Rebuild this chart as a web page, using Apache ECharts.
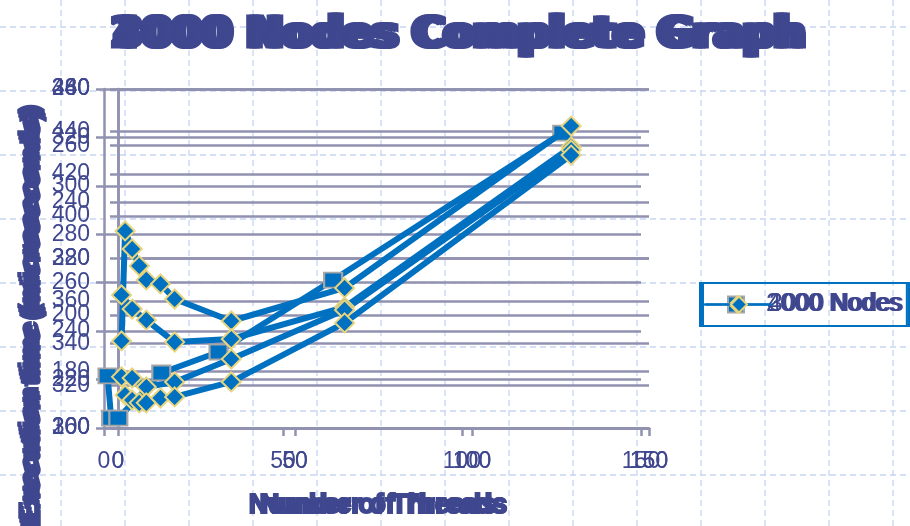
<!DOCTYPE html>
<html>
<head>
<meta charset="utf-8">
<script src="https://cdn.jsdelivr.net/npm/echarts@6/dist/echarts.min.js"></script>
<style>
  html, body { margin: 0; padding: 0; background: #ffffff; }
  #chart { width: 910px; height: 526px; }
</style>
</head>
<body>
<div id="chart"></div>
<script>
// Thread counts and measured execution times (microseconds) for each run
const threadsA = [1, 2, 4, 16, 32, 64, 128];
const timesA = [221.5, 204.1, 204.1, 222.7, 231.4, 261.1, 321.8];

const threadsB = [1, 2, 4, 6, 8, 12, 16, 32, 64, 128];
const timesB = [341.1, 393.0, 384.5, 376.5, 369.9, 368.0, 360.9, 350.5, 366.1, 442.5];

const threadsC1 = [1, 4, 8, 16, 32, 64, 128];
const timesC1 = [207.1, 202.1, 198.2, 190.4, 191.5, 202.8, 259.5];
const threadsC2 = [1, 4, 8, 16, 32, 64, 128];
const timesC2 = [178.1, 177.7, 174.5, 176.3, 184.4, 201.8, 258.4];
const threadsC3 = [2, 4, 6, 8, 12, 16, 32, 64, 128];
const timesC3 = [171.7, 169.9, 168.9, 168.9, 170.6, 171.0, 176.3, 197.2, 256.6];

// Axis tick labels
const xTicks = [0, 50, 100, 150];
const yTicksA = [200, 220, 240, 260, 280, 300, 320, 340];
const yTicksB = [300, 320, 340, 360, 380, 400, 420, 440, 460];
const yTicksC = [160, 180, 200, 220, 240, 260, 280];

const NAVY = '#3f478f';
const BLUE = '#0070c0';
const RULE = '#9191b0';
const FONT = 'Liberation Sans';

const zip = (xs, ys) => xs.map((x, i) => [x, ys[i]]);

const layers = [
  { name: '2000 Nodes', left: 104, right: 269, yTicks: yTicksA, labelMargin: 14, shift: 0,
    runs: [{ x: threadsA, y: timesA }], symbol: 'rect', border: '#a6a6a6', z: 2 },
  { name: '4000 Nodes', left: 118, right: 261, yTicks: yTicksB, labelMargin: 28, shift: 3,
    runs: [{ x: threadsB, y: timesB }], symbol: 'diamond', border: '#e8d47c', z: 4 },
  { name: '3000 Nodes', left: 118, right: 261, yTicks: yTicksC, labelMargin: 28, shift: 6,
    runs: [{ x: threadsC1, y: timesC1 }, { x: threadsC2, y: timesC2 }, { x: threadsC3, y: timesC3 }],
    symbol: 'diamond', border: '#e8d47c', z: 6 }
];

const grid = [], xAxis = [], yAxis = [], series = [], title = [], legend = [];

layers.forEach((L, i) => {
  grid.push({ left: L.left, right: L.right, top: 89, bottom: 98, containLabel: false });
  xAxis.push({
    type: 'value', gridIndex: i,
    min: xTicks[0], max: xTicks[xTicks.length - 1], interval: xTicks[1] - xTicks[0],
    axisLine: { show: true, lineStyle: { color: RULE, width: 2.5 } },
    axisTick: { show: true, length: 8, lineStyle: { color: RULE, width: 2.5 } },
    axisLabel: { color: NAVY, fontSize: 23, fontFamily: FONT, margin: 22 },
    splitLine: { show: false },
    name: 'Number of Threads', nameLocation: 'middle', nameGap: 64,
    nameTextStyle: { color: NAVY, fontSize: 27, fontWeight: 'bold', fontFamily: FONT,
      textBorderColor: NAVY, textBorderWidth: 2 }
  });
  const yt = L.yTicks;
  yAxis.push({
    type: 'value', gridIndex: i,
    min: yt[0], max: yt[yt.length - 1], interval: yt[1] - yt[0],
    axisLine: { show: true, lineStyle: { color: RULE, width: 2.5 } },
    axisTick: { show: true, length: 8, lineStyle: { color: RULE, width: 2.5 } },
    axisLabel: { color: NAVY, fontSize: 23, fontFamily: FONT, margin: L.labelMargin },
    splitLine: { show: true, lineStyle: { color: RULE, width: 2.5, type: 'solid' } }
  });
  L.runs.forEach(run => {
    series.push({
      type: 'line', name: L.name, xAxisIndex: i, yAxisIndex: i, z: L.z,
      data: zip(run.x, run.y),
      lineStyle: { color: BLUE, width: 6 },
      itemStyle: { color: BLUE, borderColor: L.border, borderWidth: 2 },
      symbol: L.symbol, symbolSize: L.symbol === 'rect' ? [18, 15] : 19,
      showSymbol: true, animation: false
    });
  });
  title.push({
    text: L.name + ' Complete Graph', left: 104 + L.shift, top: 9,
    textStyle: { color: NAVY, fontSize: 43, fontWeight: 'bold', fontFamily: 'DejaVu Sans',
      textBorderColor: NAVY, textBorderWidth: 3 }
  });
  legend.push({
    data: [L.name], left: 700 + L.shift * 0.5, top: 283, orient: 'vertical',
    padding: [9, 6, 9, 2], itemGap: 0,
    borderColor: BLUE, borderWidth: 2, borderRadius: 0,
    backgroundColor: 'transparent',
    itemWidth: 66, itemHeight: 20,
    textStyle: { color: NAVY, fontSize: 25, fontFamily: FONT, padding: [0, 0, 0, -8] },
    selectedMode: false
  });
});

// Dashed sheet grid behind the chart
const sheet = [];
for (let x = 61; x < 910; x += 64) {
  sheet.push({ type: 'line', silent: true, z: -10,
    shape: { x1: x, y1: 0, x2: x, y2: 526 },
    style: { stroke: '#c8d5f4', lineWidth: 1.3, lineDash: [6, 4] } });
}
for (let y = 27; y < 526; y += 64) {
  sheet.push({ type: 'line', silent: true, z: -10,
    shape: { x1: 0, y1: y, x2: 910, y2: y },
    style: { stroke: '#c8d5f4', lineWidth: 1.3, lineDash: [6, 4] } });
}
// Vertical axis caption, repeated per layer
[0, 4, 8].forEach(d => {
  sheet.push({ type: 'text', silent: true, z: 50,
    x: 30 + d * 0.25, y: 312 + d, rotation: Math.PI / 2,
    style: { text: 'Execution time (microseconds)', fill: NAVY,
      font: 'bold 28px "Liberation Sans"', align: 'center', verticalAlign: 'middle',
      stroke: NAVY, lineWidth: 1.5 } });
});

const chart = echarts.init(document.getElementById('chart'), null, { renderer: 'canvas' });
chart.setOption({
  backgroundColor: '#ffffff',
  animation: false,
  title, legend, grid, xAxis, yAxis, series,
  graphic: sheet
});
</script>
</body>
</html>
